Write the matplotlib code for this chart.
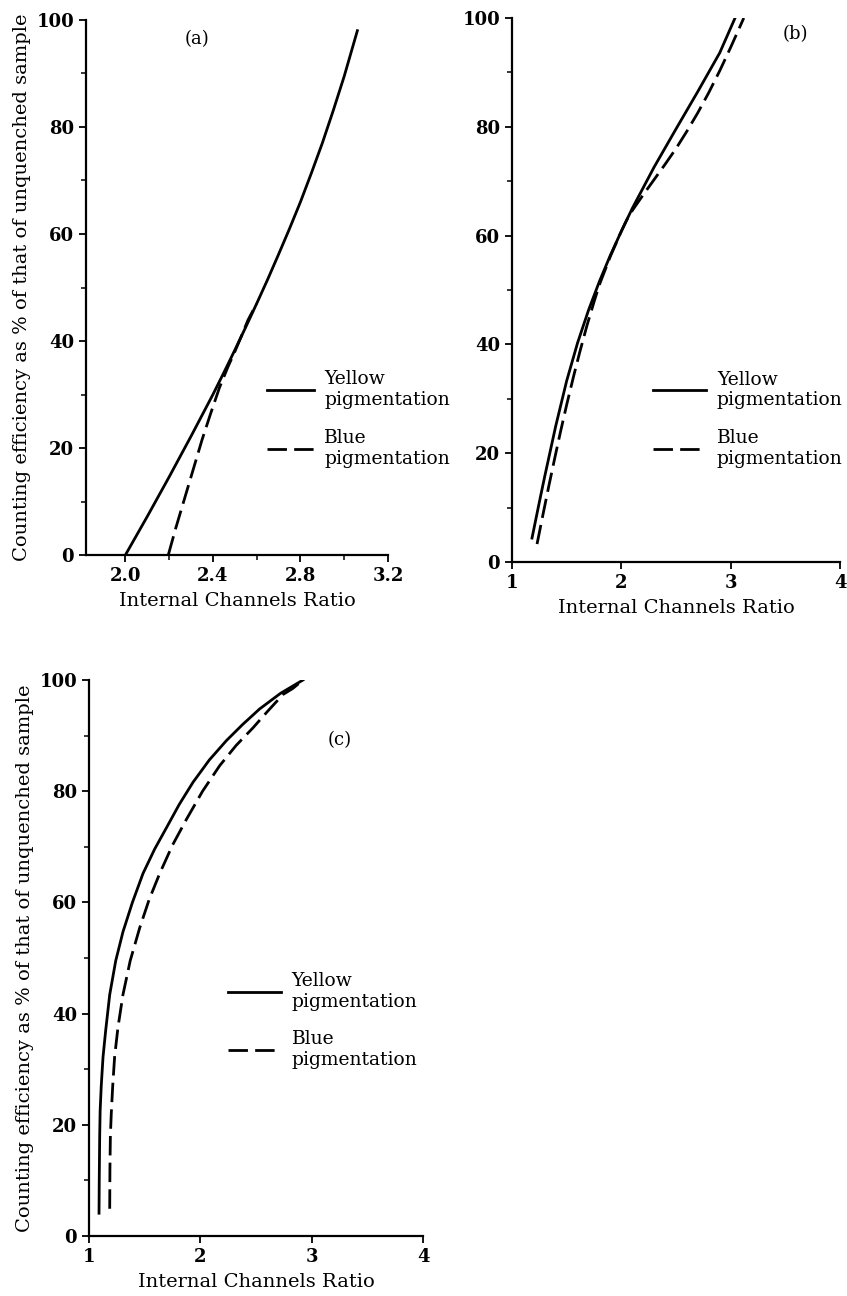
import matplotlib
matplotlib.use("Agg")
import matplotlib.pyplot as plt
from matplotlib.lines import Line2D
from matplotlib.ticker import MultipleLocator, FixedLocator

plt.rcParams['font.family'] = ['DejaVu Serif']

# ---------------- data ----------------
a_yellow_x = [2.0, 2.05, 2.1, 2.15, 2.2, 2.25, 2.3, 2.35, 2.4, 2.45, 2.5,
              2.55, 2.6, 2.65, 2.7, 2.75, 2.8, 2.85, 2.9, 2.95, 3.0, 3.06]
a_yellow_y = [0, 3.6, 7.2, 10.9, 14.6, 18.4, 22.2, 26.1, 30.0, 34.1, 38.3,
              42.6, 47.0, 51.5, 56.2, 61.0, 66.0, 71.4, 77.0, 83.1, 89.5, 98.0]
a_blue_x = [2.196, 2.23, 2.27, 2.31, 2.35, 2.39, 2.43, 2.47, 2.5, 2.53, 2.56, 2.6]
a_blue_y = [0, 5.0, 10.5, 16.0, 21.5, 26.5, 31.3, 35.3, 38.0, 40.9, 43.9, 47.0]

b_yellow_x = [1.183, 1.25, 1.3, 1.4, 1.5, 1.6, 1.7, 1.8, 1.9, 2.0, 2.1,
              2.3, 2.5, 2.7, 2.9, 3.04]
b_yellow_y = [4.4, 11.0, 15.8, 25.0, 33.3, 40.3, 46.3, 51.6, 56.4, 60.8, 65.0,
              72.6, 79.6, 86.5, 93.6, 100]
b_blue_x = [1.229, 1.28, 1.335, 1.39, 1.442, 1.5, 1.564, 1.62, 1.686, 1.75,
            1.8, 1.9, 2.0, 2.05, 2.1, 2.2, 2.3, 2.4, 2.5, 2.6, 2.7, 2.8,
            2.9, 3.0, 3.12]
b_blue_y = [3.3, 8.4, 13.8, 19.0, 23.8, 28.9, 34.2, 38.6, 43.5, 47.8,
            51.0, 56.2, 60.8, 62.9, 64.6, 67.5, 70.3, 73.1, 76.0, 79.2, 82.6,
            86.3, 90.3, 94.6, 100]

c_yellow_x = [1.09, 1.092, 1.096, 1.10, 1.11, 1.126, 1.15, 1.186, 1.24, 1.305,
              1.39, 1.485, 1.59, 1.695, 1.81, 1.934, 2.08, 2.234, 2.38, 2.533,
              2.72, 2.922]
c_yellow_y = [4.1, 10.0, 18.0, 22.5, 27.0, 32.2, 37.0, 43.4, 49.5, 54.7,
              60.0, 65.2, 69.6, 73.4, 77.6, 81.6, 85.6, 89.1, 92.0, 94.8,
              97.6, 100]
c_blue_x = [1.186, 1.188, 1.192, 1.20, 1.213, 1.23, 1.26, 1.305, 1.37, 1.455,
            1.54, 1.635, 1.75, 1.874, 2.02, 2.174, 2.32, 2.473, 2.61, 2.743,
            2.832, 2.922]
c_blue_y = [4.9, 12.0, 18.0, 22.0, 27.0, 32.2, 37.5, 43.4, 49.5, 55.4,
            60.5, 65.2, 70.3, 74.9, 80.0, 84.6, 88.2, 91.4, 94.5, 97.4,
            98.5, 100]

y_ticks = [0, 20, 40, 60, 80, 100]
a_xticks = [2.0, 2.4, 2.8, 3.2]
a_xtick_labels = ['2.0', '2.4', '2.8', '3.2']
bc_xticks = [1, 2, 3, 4]
bc_xtick_labels = ['1', '2', '3', '4']

labels = ['Yellow\npigmentation', 'Blue\npigmentation']
ylabel = 'Counting efficiency as % of that of unquenched sample'
xlabel = 'Internal Channels Ratio'

# ---------------- figure ----------------
W, H = 847, 1296
fig = plt.figure(figsize=(W / 100, H / 100), dpi=100)

LW = 2.0
DASH = (7, 2.6)
FS_TICK = 13
FS_LAB = 14
FS_LEG = 13.5


def rect(l, r, b, t):
    return [l / W, 1 - b / H, (r - l) / W, (b - t) / H]


def style(ax, xlim, xticks, xtl, xminor=None):
    ax.set_xlim(*xlim)
    ax.set_ylim(0, 100)
    for s in ['top', 'right']:
        ax.spines[s].set_visible(False)
    for s in ['left', 'bottom']:
        ax.spines[s].set_linewidth(1.6)
    ax.set_xticks(xticks)
    ax.set_xticklabels(xtl)
    ax.set_yticks(y_ticks)
    ax.yaxis.set_minor_locator(MultipleLocator(10))
    if xminor is not None:
        ax.xaxis.set_minor_locator(FixedLocator(xminor))
    ax.tick_params(which='major', direction='out', length=5, width=1.3,
                   labelsize=FS_TICK, pad=3.5)
    ax.tick_params(which='minor', direction='out', length=3.5, width=1.1)
    for lab in ax.get_xticklabels() + ax.get_yticklabels():
        lab.set_fontweight('bold')
    ax.set_xlabel(xlabel, fontsize=FS_LAB, labelpad=5)


def legend(ax, x, y, hl):
    h = [Line2D([], [], color='black', lw=LW),
         Line2D([], [], color='black', lw=LW, dashes=DASH)]
    ax.legend(h, labels, loc='upper left', bbox_to_anchor=(x, y),
              frameon=False, fontsize=FS_LEG, handlelength=hl,
              handletextpad=0.55, labelspacing=1.05, borderpad=0,
              borderaxespad=0)


# (a)
axa = fig.add_axes(rect(86, 388, 555, 20))
axa.plot(a_yellow_x, a_yellow_y, color='black', lw=LW)
axa.plot(a_blue_x, a_blue_y, color='black', lw=LW, dashes=DASH)
style(axa, (1.82, 3.2), a_xticks, a_xtick_labels, xminor=[2.2, 2.6, 3.0])
axa.set_ylabel(ylabel, fontsize=FS_LAB, labelpad=4)
axa.text(2.327, 96.5, '(a)', fontsize=FS_TICK, ha='center', va='center')
legend(axa, 0.60, 0.345, 2.5)

# (b)
axb = fig.add_axes(rect(512, 840, 562, 18))
axb.plot(b_yellow_x, b_yellow_y, color='black', lw=LW)
axb.plot(b_blue_x, b_blue_y, color='black', lw=LW, dashes=DASH)
style(axb, (1, 4), bc_xticks, bc_xtick_labels)
axb.text(3.59, 97.0, '(b)', fontsize=FS_TICK, ha='center', va='center')
legend(axb, 0.43, 0.352, 2.85)

# (c)
axc = fig.add_axes(rect(89, 423, 1236, 680))
axc.plot(c_yellow_x, c_yellow_y, color='black', lw=LW)
axc.plot(c_blue_x, c_blue_y, color='black', lw=LW, dashes=DASH)
style(axc, (1, 4), bc_xticks, bc_xtick_labels)
axc.set_ylabel(ylabel, fontsize=FS_LAB, labelpad=4)
axc.text(3.25, 89.2, '(c)', fontsize=FS_TICK, ha='center', va='center')
legend(axc, 0.416, 0.475, 2.85)

fig.savefig('out.png', dpi=100, facecolor='white')
